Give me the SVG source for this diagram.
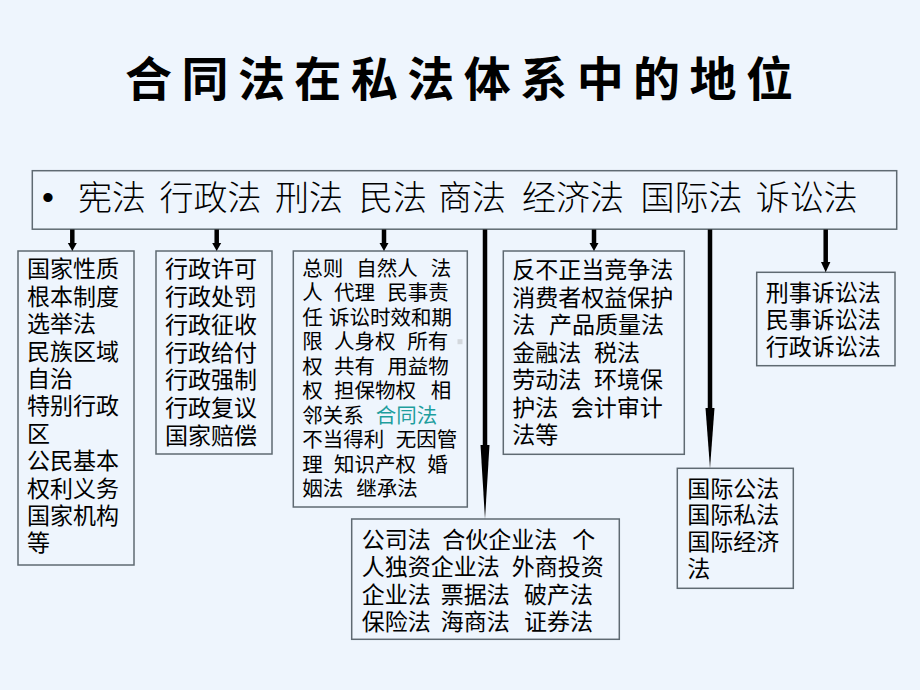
<svg xmlns="http://www.w3.org/2000/svg" width="920" height="690" viewBox="0 0 920 690">
<style>
.bg{fill:#EEF5FD}
.box{fill:none;stroke:#5f6a72;stroke-width:1.5}
.t{font-family:"Noto Sans CJK SC","Noto Sans",sans-serif;fill:#000}
.b23{font-size:23px}
.b20{font-size:20.5px}
.top{font-size:34px;font-weight:300}
.title{font-size:47px;font-weight:700}
.teal{fill:#1E9E9E}
.ln{stroke:#000;stroke-width:4.5;fill:none}
.hd{fill:#000}
</style>
<rect class="bg" x="0" y="0" width="920" height="690"/>
<g id="title">
<text class="t title" x="125" y="96" textLength="668" lengthAdjust="spacing">合同法在私法体系中的地位</text>
</g>
<g id="node-root">
<rect class="box" x="32.3" y="170.7" width="864.4" height="58.5"/>
<text x="48" y="209" font-family="Liberation Sans, sans-serif" font-size="34" text-anchor="middle">•</text>
<text class="t top" y="210"><tspan x="78">宪法</tspan><tspan x="159.6">行政法</tspan><tspan x="275">刑法</tspan><tspan x="359">民法</tspan><tspan x="438">商法</tspan><tspan x="522">经济法</tspan><tspan x="640.5">国际法</tspan><tspan x="755.7">诉讼法</tspan></text>
</g>
<g id="node-xianfa">
<rect class="box" x="18" y="251" width="116" height="314"/>
<text class="t b23"><tspan x="27" y="277.4">国家性质</tspan><tspan x="27" y="304.8">根本制度</tspan><tspan x="27" y="332.2">选举法</tspan><tspan x="27" y="359.6">民族区域</tspan><tspan x="27" y="387">自治</tspan><tspan x="27" y="414.4">特别行政</tspan><tspan x="27" y="441.8">区</tspan><tspan x="27" y="469.2">公民基本</tspan><tspan x="27" y="496.6">权利义务</tspan><tspan x="27" y="524">国家机构</tspan><tspan x="27" y="551.4">等</tspan></text>
</g>
<g id="node-xingzheng">
<rect class="box" x="156" y="251" width="116" height="203"/>
<text class="t b23"><tspan x="165" y="277.4">行政许可</tspan><tspan x="165" y="305.1">行政处罚</tspan><tspan x="165" y="332.8">行政征收</tspan><tspan x="165" y="360.5">行政给付</tspan><tspan x="165" y="388.2">行政强制</tspan><tspan x="165" y="415.9">行政复议</tspan><tspan x="165" y="443.6">国家赔偿</tspan></text>
</g>
<g id="node-minfa">
<rect class="box" x="293.3" y="251" width="174" height="256"/>
<text class="t b20" y="275.5"><tspan x="302.3">总则</tspan><tspan x="356.3">自然人</tspan><tspan x="430.7">法</tspan></text>
<text class="t b20" y="300"><tspan x="302.3">人</tspan><tspan x="334">代理</tspan><tspan x="387.3">民事责</tspan></text>
<text class="t b20" y="324.5"><tspan x="302.3">任</tspan><tspan x="329">诉讼时效和期</tspan></text>
<text class="t b20" y="349"><tspan x="302.3">限</tspan><tspan x="334">人身权</tspan><tspan x="407.3">所有</tspan></text>
<text class="t b20" y="373.5"><tspan x="302.3">权</tspan><tspan x="334">共有</tspan><tspan x="387.3">用益物</tspan></text>
<text class="t b20" y="398"><tspan x="302.3">权</tspan><tspan x="334">担保物权</tspan><tspan x="430.7">相</tspan></text>
<text class="t b20" y="422.5"><tspan x="302.3">邻关系</tspan><tspan class="teal" x="375.7">合同法</tspan></text>
<text class="t b20" y="447"><tspan x="302.3">不当得利</tspan><tspan x="395.7">无因管</tspan></text>
<text class="t b20" y="471.5"><tspan x="302.3">理</tspan><tspan x="334">知识产权</tspan><tspan x="427.3">婚</tspan></text>
<text class="t b20" y="496"><tspan x="302.3">姻法</tspan><tspan x="356.3">继承法</tspan></text>
<rect x="457.5" y="339.2" width="5" height="5" fill="#d3d8dd"/>
</g>
<g id="node-shangfa">
<rect class="box" x="351.7" y="519" width="267.6" height="120.3"/>
<text class="t b23" y="547.6"><tspan x="361.7">公司法</tspan><tspan x="442.3">合伙企业法</tspan><tspan x="572.3">个</tspan></text>
<text class="t b23" y="575.1"><tspan x="361.7">人独资企业法</tspan><tspan x="511.7">外商投资</tspan></text>
<text class="t b23" y="602.6"><tspan x="361.7">企业法</tspan><tspan x="440.7">票据法</tspan><tspan x="524">破产法</tspan></text>
<text class="t b23" y="630.1"><tspan x="361.7">保险法</tspan><tspan x="440.7">海商法</tspan><tspan x="524">证券法</tspan></text>
</g>
<g id="node-jingji">
<rect class="box" x="503.3" y="251" width="181" height="203.3"/>
<text class="t b23" y="278.4"><tspan x="512.3">反不正当竞争法</tspan></text>
<text class="t b23" y="305.9"><tspan x="512.3">消费者权益保护</tspan></text>
<text class="t b23" y="333.4"><tspan x="512.3">法</tspan><tspan x="549">产品质量法</tspan></text>
<text class="t b23" y="360.9"><tspan x="512.3">金融法</tspan><tspan x="594">税法</tspan></text>
<text class="t b23" y="388.4"><tspan x="512.3">劳动法</tspan><tspan x="594">环境保</tspan></text>
<text class="t b23" y="415.9"><tspan x="512.3">护法</tspan><tspan x="570.7">会计审计</tspan></text>
<text class="t b23" y="443.4"><tspan x="512.3">法等</tspan></text>
</g>
<g id="node-guoji">
<rect class="box" x="677.3" y="468.3" width="116" height="120"/>
<text class="t b23"><tspan x="687.3" y="496.7">国际公法</tspan><tspan x="687.3" y="523.4">国际私法</tspan><tspan x="687.3" y="550.1">国际经济</tspan><tspan x="687.3" y="576.8">法</tspan></text>
</g>
<g id="node-susong">
<rect class="box" x="756.7" y="272.3" width="138.3" height="93.4"/>
<text class="t b23"><tspan x="765.7" y="301">刑事诉讼法</tspan><tspan x="765.7" y="328.2">民事诉讼法</tspan><tspan x="765.7" y="355.4">行政诉讼法</tspan></text>
</g>
<g id="connectors">
<line class="ln" x1="72.3" y1="229.5" x2="72.3" y2="244.5"/>
<polygon class="hd" points="67.8,243 76.8,243 72.3,251"/>
<line class="ln" x1="216.7" y1="229.5" x2="216.7" y2="244.5"/>
<polygon class="hd" points="212.2,243 221.2,243 216.7,251"/>
<line class="ln" x1="384" y1="229.5" x2="384" y2="244.5"/>
<polygon class="hd" points="379.5,243 388.5,243 384,251"/>
<line class="ln" x1="594" y1="229.5" x2="594" y2="244.5"/>
<polygon class="hd" points="589.5,243 598.5,243 594,251"/>
<line class="ln" x1="825.7" y1="229.5" x2="825.7" y2="263.5"/>
<polygon class="hd" points="821,262 830.4,262 825.7,272.3"/>
<line class="ln" x1="485" y1="229.5" x2="485" y2="447"/>
<polygon class="hd" points="480.5,445 489.5,445 485,519"/>
<line class="ln" x1="710" y1="229.5" x2="710" y2="410"/>
<polygon class="hd" points="705.5,408 714.5,408 710,468.3"/>
</g>
</svg>
